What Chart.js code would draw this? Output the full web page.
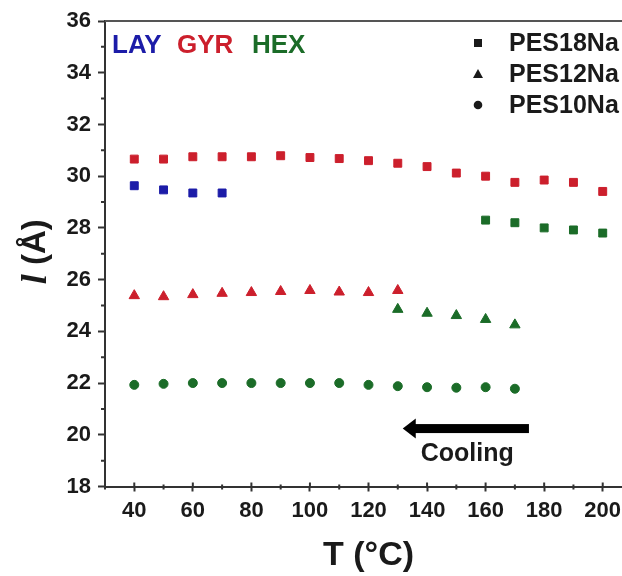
<!DOCTYPE html>
<html>
<head>
<meta charset="utf-8">
<script src="https://cdn.jsdelivr.net/npm/chart.js@4.4.1/dist/chart.umd.min.js"></script>
<style>
html, body { margin: 0; padding: 0; overflow: hidden; background: #fff; }
#wrap { width: 640px; height: 576px; }
</style>
</head>
<body>
<div id="wrap"><canvas id="myCanvas" width="640" height="576"></canvas></div>
<script>
// d-spacing (Å) vs temperature (°C)
var gyr18Temps = [40, 50, 60, 70, 80, 90, 100, 110, 120, 130, 140, 150, 160, 170, 180, 190, 200];
var gyr18 = [30.66, 30.66, 30.75, 30.75, 30.75, 30.79, 30.72, 30.68, 30.6, 30.5, 30.37, 30.12, 30.0, 29.76, 29.85, 29.76, 29.41];
var lay18Temps = [40, 50, 60, 70];
var lay18 = [29.63, 29.47, 29.35, 29.35];
var hex18Temps = [160, 170, 180, 190, 200];
var hex18 = [28.3, 28.2, 28.0, 27.92, 27.8];
var gyr12Temps = [40, 50, 60, 70, 80, 90, 100, 110, 120, 130];
var gyr12 = [25.38, 25.34, 25.42, 25.47, 25.5, 25.54, 25.58, 25.52, 25.5, 25.58];
var hex12Temps = [130, 140, 150, 160, 170];
var hex12 = [24.85, 24.7, 24.61, 24.46, 24.25];
var hex10Temps = [40, 50, 60, 70, 80, 90, 100, 110, 120, 130, 140, 150, 160, 170];
var hex10 = [21.93, 21.97, 22.0, 22.0, 22.0, 22.0, 22.0, 22.0, 21.93, 21.88, 21.84, 21.82, 21.84, 21.78];

var xTicks = [40, 60, 80, 100, 120, 140, 160, 180, 200];
var xMinorTicks = [30, 50, 70, 90, 110, 130, 150, 170, 190];
var yTicks = [18, 20, 22, 24, 26, 28, 30, 32, 34, 36];
var yMinorTicks = [19, 21, 23, 25, 27, 29, 31, 33, 35];

var phaseLabels = ['LAY', 'GYR', 'HEX'];
var sampleLabels = ['PES18Na', 'PES12Na', 'PES10Na'];
var sampleShapes = ['rect', 'triangle', 'circle'];

// cooling arrow (temperature from, to, at d value) and its label
var arrowFrom = 174.8;
var arrowTo = 131.7;
var arrowAt = 20.24;
var coolingText = 'Cooling';
var coolingAt = [153.7, 19.25];

var BLUE = '#1c1ca8';
var RED = '#cc1f2c';
var GREEN = '#1b6c28';
var INK = '#1a1a1a';
var FONT = 'Arial, "Liberation Sans", sans-serif';

function pts(xs, ys) {
    return xs.map(function (x, i) { return { x: x, y: ys[i] }; });
}

function series(label, xs, ys, color, shape, r) {
    return {
        label: label,
        data: pts(xs, ys),
        backgroundColor: color,
        borderColor: color,
        borderWidth: 1,
        pointStyle: shape,
        pointRadius: r,
        pointHoverRadius: r
    };
}

var decor = {
    id: 'decor',
    afterDraw: function (chart) {
        var ctx = chart.ctx;
        var a = chart.chartArea;
        var xs = chart.scales.x;
        var ys = chart.scales.y;
        ctx.save();

        // top frame
        ctx.strokeStyle = '#555';
        ctx.lineWidth = 2;
        ctx.beginPath();
        ctx.moveTo(a.left, a.top);
        ctx.lineTo(a.right, a.top);
        ctx.stroke();

        // inner half of major x ticks, minor ticks
        ctx.strokeStyle = '#333';
        ctx.lineWidth = 2;
        ctx.beginPath();
        xTicks.forEach(function (v) {
            var px = xs.getPixelForValue(v);
            ctx.moveTo(px, a.bottom);
            ctx.lineTo(px, a.bottom - 4);
        });
        xMinorTicks.forEach(function (v) {
            var px = xs.getPixelForValue(v);
            ctx.moveTo(px, a.bottom - 2);
            ctx.lineTo(px, a.bottom + 3);
        });
        yMinorTicks.forEach(function (v) {
            var py = ys.getPixelForValue(v);
            ctx.moveTo(a.left - 4, py);
            ctx.lineTo(a.left, py);
        });
        ctx.stroke();

        // y title with italic l
        ctx.translate(36, (a.top + a.bottom) / 2 - 2);
        ctx.rotate(-Math.PI / 2);
        ctx.fillStyle = INK;
        ctx.textBaseline = 'middle';
        ctx.textAlign = 'left';
        var f1 = 'italic bold 36px "Liberation Serif", serif';
        var f2 = 'bold 33px ' + FONT;
        ctx.font = f1;
        var w1 = ctx.measureText('l').width;
        ctx.font = f2;
        var w2 = ctx.measureText(' (Å)').width;
        var sx = -(w1 + w2) / 2;
        ctx.font = f1;
        ctx.fillText('l', sx, 1);
        ctx.font = f2;
        ctx.fillText(' (Å)', sx + w1, 0);
        ctx.setTransform(1, 0, 0, 1, 0, 0);

        // phase legend
        ctx.font = 'bold 26px ' + FONT;
        ctx.textBaseline = 'middle';
        ctx.textAlign = 'left';
        var phaseColors = [BLUE, RED, GREEN];
        var phaseX = [7, 72, 147];
        phaseLabels.forEach(function (t, i) {
            ctx.fillStyle = phaseColors[i];
            ctx.fillText(t, a.left + phaseX[i], a.top + 25);
        });

        // sample legend
        ctx.font = 'bold 25px ' + FONT;
        ctx.fillStyle = INK;
        sampleLabels.forEach(function (t, i) {
            var yy = a.top + 22 + i * 31;
            var mx = a.left + 373;
            ctx.beginPath();
            if (sampleShapes[i] === 'rect') {
                ctx.rect(mx - 4, yy - 4, 8, 8);
            } else if (sampleShapes[i] === 'triangle') {
                ctx.moveTo(mx, yy - 5);
                ctx.lineTo(mx + 5, yy + 4);
                ctx.lineTo(mx - 5, yy + 4);
                ctx.closePath();
            } else {
                ctx.arc(mx, yy, 4.3, 0, Math.PI * 2);
            }
            ctx.fill();
            ctx.fillText(t, a.left + 404, yy + 1);
        });

        // cooling arrow
        var x1 = xs.getPixelForValue(arrowFrom);
        var x2 = xs.getPixelForValue(arrowTo);
        var yA = ys.getPixelForValue(arrowAt);
        ctx.fillStyle = '#000';
        ctx.fillRect(x2 + 10, yA - 4.5, x1 - x2 - 10, 9);
        ctx.beginPath();
        ctx.moveTo(x2, yA);
        ctx.lineTo(x2 + 13, yA - 10);
        ctx.lineTo(x2 + 13, yA + 10);
        ctx.closePath();
        ctx.fill();

        ctx.font = 'bold 25px ' + FONT;
        ctx.fillStyle = INK;
        ctx.textAlign = 'center';
        ctx.fillText(coolingText, xs.getPixelForValue(coolingAt[0]), ys.getPixelForValue(coolingAt[1]));

        ctx.restore();
    }
};

var canvas = document.getElementById('myCanvas');
var ctx = canvas.getContext('2d');

var myChart = new Chart(ctx, {
    type: 'scatter',
    data: {
        datasets: [
            series('PES18Na LAY', lay18Temps, lay18, BLUE, 'rect', 5.6),
            series('PES18Na GYR', gyr18Temps, gyr18, RED, 'rect', 5.6),
            series('PES18Na HEX', hex18Temps, hex18, GREEN, 'rect', 5.6),
            series('PES12Na GYR', gyr12Temps, gyr12, RED, 'triangle', 6),
            series('PES12Na HEX', hex12Temps, hex12, GREEN, 'triangle', 6),
            series('PES10Na HEX', hex10Temps, hex10, GREEN, 'circle', 4.5)
        ]
    },
    options: {
        responsive: false,
        animation: false,
        layout: { padding: { top: 21, right: 8, left: 0, bottom: 0 } },
        plugins: {
            legend: { display: false },
            tooltip: { enabled: false }
        },
        scales: {
            x: {
                type: 'linear',
                min: 30,
                max: 210,
                afterBuildTicks: function (s) {
                    s.ticks = xTicks.map(function (v) { return { value: v }; });
                },
                afterFit: function (s) { s.height = 89.5; },
                ticks: {
                    color: INK,
                    font: { family: FONT, size: 22, weight: 'bold' },
                    padding: 6,
                    maxRotation: 0,
                    autoSkip: false
                },
                grid: {
                    drawOnChartArea: false,
                    tickLength: 5,
                    tickWidth: 2,
                    tickColor: '#333'
                },
                border: { color: '#333', width: 2 },
                title: {
                    display: true,
                    text: 'T (°C)',
                    color: INK,
                    font: { family: FONT, size: 34, weight: 'bold' },
                    padding: { top: 0, bottom: 0 }
                }
            },
            y: {
                min: 18,
                max: 36,
                afterBuildTicks: function (s) {
                    s.ticks = yTicks.map(function (v) { return { value: v }; });
                },
                afterFit: function (s) { s.width = 105; },
                ticks: {
                    color: INK,
                    font: { family: FONT, size: 22, weight: 'bold' },
                    padding: 7,
                    autoSkip: false
                },
                grid: {
                    drawOnChartArea: false,
                    tickLength: 7,
                    tickWidth: 2,
                    tickColor: '#333'
                },
                border: { color: '#333', width: 2 }
            }
        }
    },
    plugins: [decor]
});
</script>
</body>
</html>
